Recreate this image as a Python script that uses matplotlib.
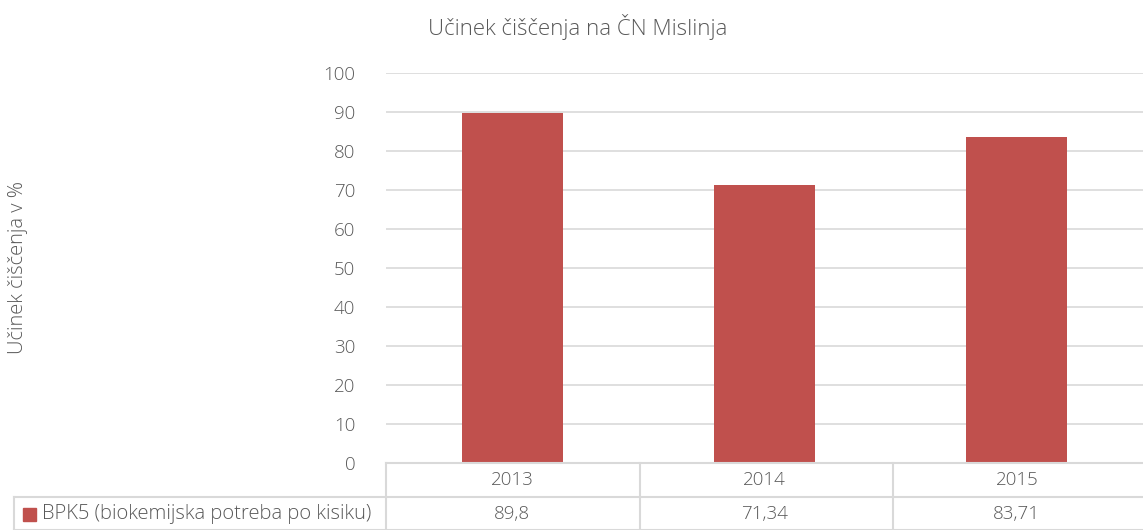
import matplotlib.pyplot as plt
import matplotlib.transforms as mtransforms
from matplotlib.patches import Rectangle

years = ['2013', '2014', '2015']
bpk5 = [89.8, 71.34, 83.71]
bpk5_labels = ['89,8', '71,34', '83,71']
series_name = 'BPK5 (biokemijska potreba po kisiku)'
yticks = list(range(0, 101, 10))

plt.rcParams['font.family'] = ['Open Sans', 'DejaVu Sans']
txt = '#595959'
grid = '#d9d9d9'
red = '#c0504d'
fs = 13.5

W, H = 1143, 530
fig = plt.figure(figsize=(W / 100, H / 100), dpi=100)
ax = fig.add_axes([386 / W, 1 - 463 / H, 1 - 386 / W, 390 / H])

x = range(len(years))
ax.bar(x, bpk5, width=0.4, color=red, zorder=3)
ax.set_xlim(-0.5, 2.5)
ax.set_ylim(0, 100)
ax.set_yticks(yticks)
ax.set_yticklabels([str(t) for t in yticks], fontsize=fs, color=txt, fontweight='light')
ax.tick_params(axis='y', length=0, pad=22)
ax.set_xticks([])
ax.grid(axis='y', color=grid, linewidth=1.2, zorder=0)
for s in ax.spines.values():
    s.set_visible(False)

fig.text(0.505, 1 - 27 / H, 'Učinek čiščenja na ČN Mislinja', ha='center', va='center',
         fontsize=16, color=txt, fontweight='light')
fig.text(18 / W, 1 - 268 / H, 'Učinek čiščenja v %', ha='center', va='center',
         rotation=90, fontsize=14.5, color=txt, fontweight='light')

# data table below the axis
def fy(py):
    return 1 - py / H

def fx(px):
    return px / W

lw = 1.5
fig.add_artist(plt.Line2D([fx(386), 1], [fy(463), fy(463)], color=grid, lw=lw))
fig.add_artist(plt.Line2D([fx(14), 1], [fy(497), fy(497)], color=grid, lw=lw))
fig.add_artist(plt.Line2D([fx(14), 1], [fy(529.5), fy(529.5)], color=grid, lw=lw))
fig.add_artist(plt.Line2D([fx(14), fx(14)], [fy(497), fy(530)], color=grid, lw=lw))
for px in [386, 640, 893]:
    fig.add_artist(plt.Line2D([fx(px), fx(px)], [fy(463), fy(530)], color=grid, lw=lw))

trans = mtransforms.blended_transform_factory(ax.transData, fig.transFigure)
for i, (yr, lab) in enumerate(zip(years, bpk5_labels)):
    fig.text(i, fy(480), yr, transform=trans, ha='center', va='center',
             fontsize=fs, color=txt, fontweight='light')
    fig.text(i, fy(514), lab, transform=trans, ha='center', va='center',
             fontsize=fs, color=txt, fontweight='light')

fig.add_artist(Rectangle((fx(23), fy(521)), 13 / W, 13 / H, color=red, transform=fig.transFigure))
fig.text(fx(42), fy(514), series_name, ha='left', va='center',
         fontsize=14.5, color=txt, fontweight='light')

fig.savefig('out.png', dpi=100)
